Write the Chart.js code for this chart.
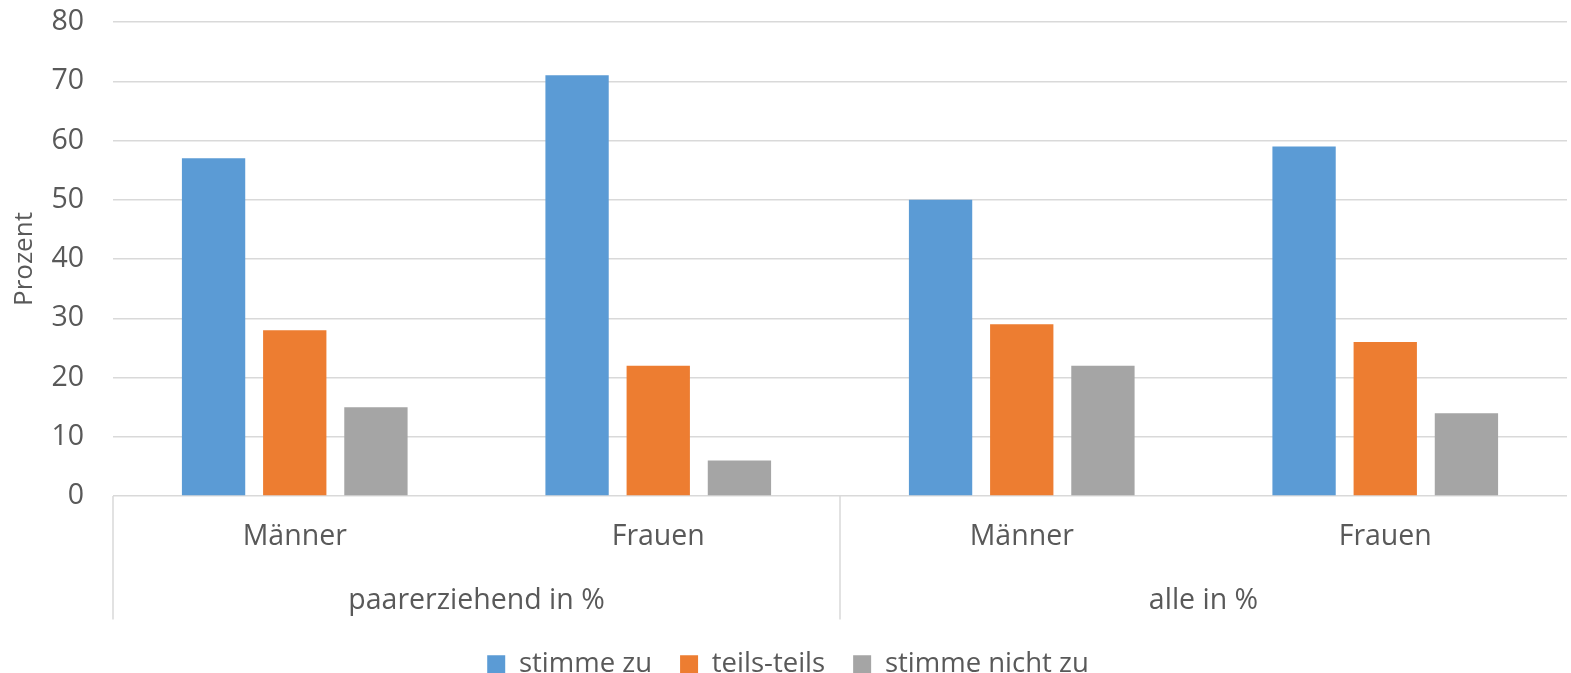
<!DOCTYPE html>
<html>
<head>
<meta charset="utf-8">
<script src="https://cdn.jsdelivr.net/npm/chart.js@4/dist/chart.umd.min.js"></script>
<style>
  html, body { margin: 0; padding: 0; overflow: hidden; background: #fff; }
  #wrap { width: 1571px; height: 688px; }
</style>
</head>
<body>
<div id="wrap"><canvas id="chart" width="1571" height="688"></canvas></div>
<script>
// Daten
const kategorien = ['Männer', 'Frauen', 'Männer', 'Frauen'];
const gruppen = ['paarerziehend in %', 'alle in %'];
const stimmeZu = [57, 71, 50, 59];
const teilsTeils = [28, 22, 29, 26];
const stimmeNichtZu = [15, 6, 22, 14];
const yTicks = [0, 10, 20, 30, 40, 50, 60, 70, 80];

const fontFamily = '"Open Sans", "Liberation Sans", sans-serif';
const textColor = '#595959';
const gridColor = '#d9d9d9';

// Trennlinien der Gruppenachse
const trennLinien = {
    id: 'trennLinien',
    afterDraw(chart) {
        const ctx = chart.ctx;
        const area = chart.chartArea;
        const x2 = chart.scales.x2;
        const mitte = (x2.getPixelForValue(0) + x2.getPixelForValue(1)) / 2;
        const unten = x2.bottom - 3;
        ctx.save();
        ctx.strokeStyle = gridColor;
        ctx.lineWidth = 1.5;
        [area.left, mitte].forEach(x => {
            ctx.beginPath();
            ctx.moveTo(x, area.bottom);
            ctx.lineTo(x, unten);
            ctx.stroke();
        });
        ctx.restore();
    }
};

const ctx = document.getElementById('chart').getContext('2d');
new Chart(ctx, {
    type: 'bar',
    data: {
        labels: kategorien,
        datasets: [{
            label: 'stimme zu',
            data: stimmeZu,
            backgroundColor: '#5B9BD5'
        }, {
            label: 'teils-teils',
            data: teilsTeils,
            backgroundColor: '#ED7D31'
        }, {
            label: 'stimme nicht zu',
            data: stimmeNichtZu,
            backgroundColor: '#A5A5A5'
        }]
    },
    options: {
        responsive: false,
        animation: false,
        categoryPercentage: 0.67,
        barPercentage: 0.78,
        layout: { padding: { top: 0, right: 4, left: 9, bottom: 0 } },
        plugins: {
            tooltip: { enabled: false },
            legend: {
                position: 'bottom',
                labels: {
                    color: textColor,
                    font: { family: fontFamily, size: 27.5 },
                    boxWidth: 18,
                    boxHeight: 18,
                    padding: 28
                }
            }
        },
        scales: {
            x: {
                grid: { display: false, drawTicks: false },
                border: { display: false },
                ticks: {
                    color: textColor,
                    font: { family: fontFamily, size: 28.5 },
                    padding: 24
                }
            },
            x2: {
                type: 'category',
                labels: gruppen,
                position: 'bottom',
                offset: true,
                grid: { display: false, drawTicks: false },
                border: { display: false },
                ticks: {
                    color: textColor,
                    font: { family: fontFamily, size: 28.5 },
                    padding: 5
                }
            },
            y: {
                min: yTicks[0],
                max: yTicks[yTicks.length - 1],
                grid: { color: gridColor, lineWidth: 1.5, drawTicks: false },
                border: { display: false },
                ticks: {
                    stepSize: yTicks[1] - yTicks[0],
                    color: textColor,
                    font: { family: fontFamily, size: 28.5 },
                    padding: 29
                },
                title: {
                    display: true,
                    text: 'Prozent',
                    color: textColor,
                    font: { family: fontFamily, size: 26 },
                    padding: 0
                },
                // Abstand oben und Achsenbreite festlegen
                afterFit: scale => {
                    scale.paddingTop = 22;
                    scale.width = 104;
                }
            }
        }
    },
    plugins: [trennLinien]
});
</script>
</body>
</html>
